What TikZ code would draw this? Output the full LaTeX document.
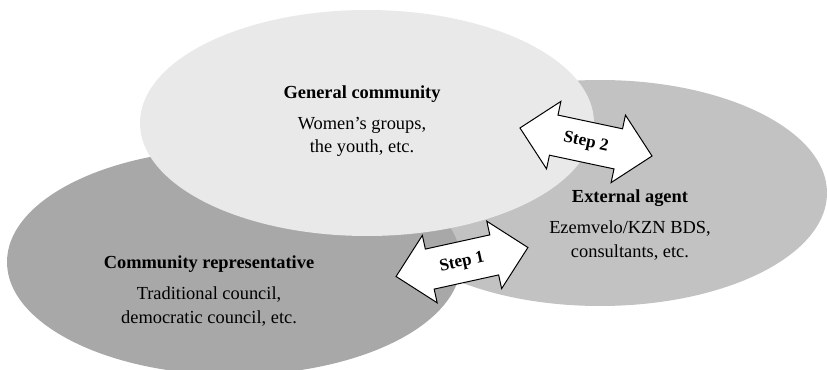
\documentclass[tikz,border=0pt]{standalone}
\usepackage{fontspec}
\setmainfont{Liberation Serif}
\usetikzlibrary{shapes.geometric,shapes.arrows}
\definecolor{lightgr}{RGB}{233,233,233}
\definecolor{midgr}{RGB}{194,194,194}
\definecolor{darkgr}{RGB}{168,168,168}
\begin{document}
\begin{tikzpicture}[x=0.5pt, y=0.5pt,
    every node/.style={font=\fontsize{9.2}{11.6}\selectfont},
    blob/.style={ellipse, minimum width=227pt, minimum height=113pt, inner sep=0pt},
    steparrow/.style={double arrow, draw=black, line width=0.5pt, fill=white,
        double arrow head extend=7pt, minimum height=67.5pt,
        inner xsep=2pt, inner ysep=5.75pt, text height=6.5pt, text depth=2pt,
        font=\fontsize{8.6}{10}\selectfont\bfseries}]
    \useasboundingbox (0,0) rectangle (827,370);
    \clip (0,0) rectangle (827,370);
    % the three groups
    \node[blob, fill=midgr] (agent) at (600,177) {};
    \node[blob, fill=darkgr] (rep) at (234,108) {};
    \node[blob, fill=lightgr] (gen) at (367,247) {};
    \node[align=center] (gentext) at (362,249) {\textbf{General community}\\[4pt]Women’s groups,\\the youth, etc.};
    \node[align=center] (agenttext) at (630,145) {\textbf{External agent}\\[4pt]Ezemvelo/KZN BDS,\\consultants, etc.};
    \node[align=center] (reptext) at (209,79) {\textbf{Community representative}\\[4pt]Traditional council,\\democratic council, etc.};
    % steps
    \node[steparrow, rotate=12.4] (step1) at (462,108) {Step 1};
    \node[steparrow, rotate=-12] (step2) at (586,228) {Step 2};
\end{tikzpicture}
\end{document}
